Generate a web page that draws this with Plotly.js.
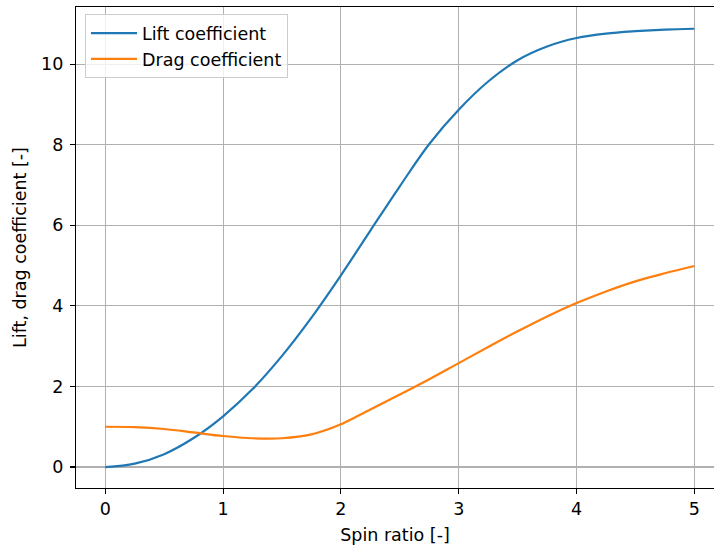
<!DOCTYPE html>
<html>
<head>
<meta charset="utf-8">
<script src="https://cdn.plot.ly/plotly-3.0.1.min.js"></script>
<style>html,body{margin:0;padding:0;background:#fff;}#chart{width:714px;height:548px;}</style>
</head>
<body>
<div id="chart"></div>
<script>
const spinRatio = [0, 0.25, 0.5, 0.75, 1, 1.25, 1.5, 1.75, 2, 2.25, 2.5, 2.75, 3, 3.25, 3.5, 3.75, 4, 4.25, 4.5, 4.75, 5];
const liftCoeff = [0, 0.085, 0.32, 0.72, 1.26, 1.935, 2.76, 3.71, 4.76, 5.87, 6.97, 8.02, 8.87, 9.57, 10.10, 10.44, 10.65, 10.76, 10.82, 10.86, 10.88];
const dragCoeff = [1.0, 0.99, 0.945, 0.86, 0.77, 0.715, 0.715, 0.81, 1.06, 1.43, 1.80, 2.18, 2.58, 2.98, 3.37, 3.74, 4.07, 4.36, 4.61, 4.81, 4.99];
const seriesNames = ["Lift coefficient", "Drag coefficient"];
const xTitle = "Spin ratio [-]";
const yTitle = "Lift, drag coefficient [-]";
const xTicks = [0, 1, 2, 3, 4, 5];
const yTicks = [0, 2, 4, 6, 8, 10];

const font = {family: "DejaVu Sans", size: 17.5, color: "#000"};
const data = [
  {x: spinRatio, y: liftCoeff, name: seriesNames[0], type: "scatter", mode: "lines",
   line: {color: "#1f77b4", width: 2.2, shape: "spline", smoothing: 1}},
  {x: spinRatio, y: dragCoeff, name: seriesNames[1], type: "scatter", mode: "lines",
   line: {color: "#ff7f0e", width: 2.2, shape: "spline", smoothing: 1}}
];
const layout = {
  width: 714, height: 548,
  margin: {l: 76, r: 0, t: 7, b: 60},
  paper_bgcolor: "#fff", plot_bgcolor: "#fff",
  font: font,
  showlegend: true,
  legend: {x: 0.0141, y: 0.985, xanchor: "left", yanchor: "top",
    bgcolor: "rgba(255,255,255,0.8)", bordercolor: "#cccccc", borderwidth: 1,
    font: font, itemwidth: 46, tracegroupgap: 2},
  xaxis: {range: [-0.2487, 5.167], tickvals: xTicks, ticktext: xTicks.map(String),
    showgrid: true, gridcolor: "#b0b0b0", gridwidth: 1.1, zeroline: false,
    showline: true, linecolor: "#000", linewidth: 1.1, mirror: true,
    ticks: "outside", ticklen: 5, tickwidth: 1.1, tickcolor: "#000",
    tickfont: font, title: {text: xTitle, font: font, standoff: 10}},
  yaxis: {range: [-0.52, 11.42], tickvals: yTicks, ticktext: yTicks.map(String),
    showgrid: true, gridcolor: "#b0b0b0", gridwidth: 1.1, zeroline: false,
    showline: true, linecolor: "#000", linewidth: 1.1, mirror: false,
    ticks: "outside", ticklen: 5, tickwidth: 1.1, tickcolor: "#000", ticklabelstandoff: 3,
    tickfont: font, title: {text: yTitle, font: font, standoff: 10}}
};
Plotly.newPlot("chart", data, layout, {staticPlot: true, displayModeBar: false});
</script>
</body>
</html>
